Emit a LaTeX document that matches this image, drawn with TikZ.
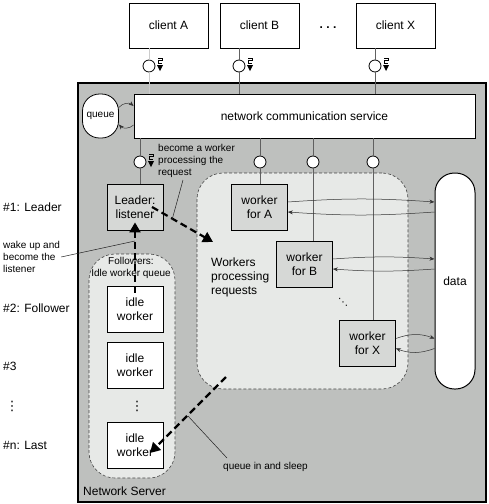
\documentclass[tikz,border=0pt]{standalone}
\usepackage{fontspec}
\setmainfont{Liberation Sans}
\newfontfamily\symfont{DejaVu Sans}
\usetikzlibrary{arrows.meta}
\definecolor{srvgray}{RGB}{190,192,190}
\definecolor{regfill}{RGB}{231,233,231}
\definecolor{boxfill}{RGB}{214,216,214}
\tikzset{
  sig/.pic={
    \fill (-3,-1) -- (3,-1) -- (0,5) -- cycle;
    \draw[line width=0.5pt] (-2,-8) -- (2,-8) -- (2,-5.5) -- (-2,-5.5) -- (-2,-3) -- (2,-3);
  }
}
\begin{document}
\begin{tikzpicture}[x=1pt, y=-1pt,
    every node/.style={font=\fontsize{12}{14}\selectfont, inner sep=0pt},
    small/.style={font=\fontsize{10}{12}\selectfont},
    dotsym/.style={font=\symfont\fontsize{13}{14}\selectfont},
    client/.style={draw, line width=0.8pt, fill=white, minimum width=79pt, minimum height=45pt},
    port/.style={circle, draw, line width=0.8pt, fill=white, minimum size=12pt},
    wbox/.style={draw, line width=0.8pt, fill=boxfill, minimum width=56pt, minimum height=46pt, align=center},
    ibox/.style={wbox, fill=white},
    region/.style={draw=gray!55!black, dash pattern=on 3pt off 2pt, line width=0.6pt, fill=regfill, rounded corners=26pt},
    wire/.style={line width=0.7pt, draw=gray!75!black},
    flow/.style={line width=0.5pt, draw=gray!40!black, -{Stealth[length=5pt, width=4pt]}},
    hop/.style={line width=2.2pt, dash pattern=on 7pt off 4pt, -{Triangle[length=10pt, width=11pt]}},
    note/.style={line width=0.5pt, draw=gray!25!black}]
  \useasboundingbox (0,0) rectangle (488,504);

  % server frame
  \node (srv) at (282,292.5) [draw, line width=1.2pt, fill=srvgray, minimum width=408pt, minimum height=419pt] {};
  \node (srvlbl) at (83,491) [anchor=west] {Network Server};

  % clients
  \node (cA) at (168.5,25.5) [client] {client A};
  \node (cB) at (259.5,25.5) [client] {client B};
  \node (dots) at (328,27.5) {\textbf{.\hspace{3.5pt}.\hspace{3.5pt}.}};
  \node (cX) at (395.5,25.5) [client] {client X};

  \node (queue) at (100.5,116) [draw, line width=0.8pt, fill=white, rounded corners=17pt, minimum width=36pt, minimum height=44pt, small] {queue};
  \node (svc) at (304.5,116) [draw, line width=0.8pt, fill=white, minimum width=341pt, minimum height=44pt] {network communication service};

  \node (ca) at (149,66) [port] {};
  \node (cb) at (239,66) [port] {};
  \node (cx) at (375,66) [port] {};
  \foreach \c/\t/\col in {ca/cA/gray!40, cb/cB/gray!75!black, cx/cX/gray!75!black}
    \draw[wire, draw=\col] (\c.north |- \t.south) -- (\c) (\c) -- (\c |- svc.north);
  \foreach \c in {ca, cb, cx}
    \pic at ([xshift=11pt]\c.center) {sig};

  \draw[flow] (queue.25) to[bend left=45] ([yshift=10pt]svc.west);
  \draw[flow] ([yshift=-9pt]svc.west) to[bend left=45] (queue.-25);

  % regions
  \node (flw) at (132,366) [region, minimum width=86pt, minimum height=224pt] {};
  \node (wrk) at (302.5,281) [region, minimum width=211pt, minimum height=216pt] {};
  \node (flwlbl) at (131,268) [align=center, small] {Followers:\\Idle worker queue};
  \node (wlbl) at (211,277) [anchor=west, align=left] {Workers\\processing\\requests};

  % leader and followers
  \node (leader) at (135,207) [wbox] {Leader:\\listener};
  \node (idle1) at (135,309) [ibox] {idle\\worker};
  \node (idle2) at (135,365.5) [ibox] {idle\\worker};
  \node (vd) at (137,406) [dotsym] {⋮};
  \node (idle3) at (135,445) [ibox] {idle\\worker};

  % workers
  \node (wA) at (259.5,207) [wbox] {worker\\for A};
  \node (wB) at (304.5,264) [wbox] {worker\\for B};
  \node (dd) at (343,302) [dotsym, font=\symfont\fontsize{10}{12}\selectfont] {⋱};
  \node (wX) at (367.5,343.5) [wbox] {worker\\for X};
  \node (data) at (455,281) [draw, line width=1pt, fill=white, rounded corners=19.5pt, minimum width=40pt, minimum height=216pt] {data};

  \node (l0) at (140,162) [port] {};
  \node (l1) at (260,162) [port] {};
  \node (l2) at (313,162) [port] {};
  \node (l3) at (373,162) [port] {};
  \foreach \c/\t in {l0/leader, l1/wA, l2/wB, l3/wX}
    \draw[wire] (\c |- svc.south) -- (\c) (\c) -- (\c |- \t.north);
  \pic at ([xshift=11pt]l0.center) {sig};

  \foreach \w/\s in {wA/4, wB/4, wX/20} {
    \draw[flow] ([yshift=5pt]\w.east) to[bend left=\s] ([yshift=5pt]\w.east -| data.west);
    \draw[flow] ([yshift=-5pt]\w.east -| data.west) to[bend left=\s] ([yshift=-5pt]\w.east);
  }

  % roles
  \node (n1) at (3,207) [anchor=west] {\#1: Leader};
  \node (n2) at (3,308) [anchor=west] {\#2: Follower};
  \node (n3) at (3,366) [anchor=west] {\#3};
  \node (nd) at (12,406) [dotsym] {⋮};
  \node (nn) at (3,445) [anchor=west] {\#n: Last};

  % hand-offs
  \coordinate (wk) at (213,242);
  \coordinate (ws) at (226,377);
  \coordinate (ik) at (150,453);
  \draw[hop] ([yshift=-7pt]idle1.north) -- ([yshift=8pt]leader.south);
  \draw[hop] ([xshift=17pt]leader.center) -- (wk);
  \draw[hop] (ws) -- (ik);

  % notes
  \node (wake) at (3,257) [anchor=west, align=left, small] {wake up and\\become the\\listener};
  \node (become) at (158,161) [anchor=west, align=left, small] {become a worker\\processing the\\request};
  \node (sleep) at (223,467) [anchor=west, small] {queue in and sleep};
  \coordinate (wu) at (135,241);
  \coordinate (b1) at (183,180);
  \coordinate (b2) at (172,220);
  \coordinate (s1) at (188,416);
  \coordinate (s2) at (227,458);
  \draw[note] ([xshift=1pt]wake.east) -- (wu);
  \draw[note] (b1) -- (b2);
  \draw[note] (s1) -- (s2);
\end{tikzpicture}
\end{document}
